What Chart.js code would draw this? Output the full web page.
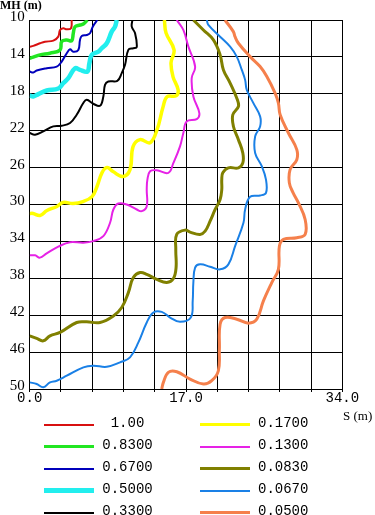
<!DOCTYPE html>
<html>
<head>
<meta charset="utf-8">
<script src="https://cdn.jsdelivr.net/npm/chart.js@4/dist/chart.umd.min.js"></script>
<style>
  body { margin: 0; background: #fff; width: 375px; height: 515px; position: relative; overflow: hidden; }
  #wrap { position: absolute; left: 0; top: 0; width: 375px; height: 410px; }
  .lbl { position: absolute; color: #000; white-space: nowrap; }
  .yTitle { left: 0; top: -2px; font: bold 12px "Liberation Serif", serif; line-height: 14px; }
  .xTitle { left: 343px; top: 408px; font: 13px "Liberation Serif", serif; line-height: 15px; }
  .swatch { position: absolute; }
  .ltxt { position: absolute; font: 14px "Liberation Mono", monospace; line-height: 16px; color: #000; }
</style>
</head>
<body>
<div id="wrap"><canvas id="contourChart" width="375" height="410"></canvas></div>
<div class="lbl yTitle">MH (m)</div>
<div class="lbl xTitle">S (m)</div>
<div id="legend"></div>
<script>
// contour levels (legend labels)
var levels = ["1.00", "0.8300", "0.6700", "0.5000", "0.3300", "0.1700", "0.1300", "0.0830", "0.0670", "0.0500"];

// axis ticks
var sTicks = [0, 3.4, 6.8, 10.2, 13.6, 17, 20.4, 23.8, 27.2, 30.6, 34];
var sTickLabels = ["0.0", "", "", "", "", "17.0", "", "", "", "", "34.0"];
var mhTicks = [10, 14, 18, 22, 26, 30, 34, 38, 42, 46, 50];
var mhTickLabels = ["10", "14", "18", "22", "26", "30", "34", "38", "42", "46", "50"];

// contour traces, S (m) and MH (m)
var s_100 = [0, 0.39, 1.12, 1.66, 2.57, 3.11, 3.30, 3.66, 4.02, 4.49, 4.57];
var mh_100 = [12.89, 12.81, 12.52, 12.35, 12.24, 11.80, 11.08, 10.90, 11.01, 10.90, 10.0];

var s_083 = [0, 0.39, 1.12, 2.21, 3.30, 3.48, 4.03, 4.57, 4.74, 4.93, 5.47, 5.83, 6.27];
var mh_083 = [14.14, 14.03, 13.78, 13.60, 13.24, 12.34, 12.16, 12.24, 11.44, 10.73, 10.54, 10.43, 10.0];

var s_067 = [0, 0.39, 0.76, 1.85, 2.94, 3.48, 4.03, 4.39, 4.74, 5.29, 5.47, 5.66, 6.20, 6.56, 6.86, 7.36];
var mh_067 = [15.59, 15.70, 15.48, 15.22, 15.05, 14.51, 13.60, 13.17, 13.43, 13.24, 12.16, 11.73, 11.62, 11.44, 10.72, 10.0];

var s_050 = [0, 0.39, 0.94, 1.85, 3.11, 3.65, 4.20, 4.93, 5.47, 6.27, 6.49, 6.75, 7.47, 7.83, 8.38, 8.92, 9.28, 9.47];
var mh_050 = [18.18, 18.29, 18.03, 17.64, 17.43, 16.85, 16.31, 15.23, 15.41, 15.59, 14.69, 13.78, 13.43, 13.06, 12.52, 11.26, 10.72, 10.0];

var s_033 = [0, 0.58, 1.48, 2.57, 3.48, 4.39, 5.11, 5.83, 6.20, 6.92, 7.65, 8.01, 8.19, 8.55, 9.53, 10.01, 10.37, 10.73, 11.27, 11.64, 11.46, 11.10, 11.17];
var mh_033 = [22.25, 22.43, 22.07, 21.53, 21.46, 21.17, 20.27, 19.00, 18.65, 19.08, 19.30, 18.29, 17.03, 16.67, 16.59, 15.76, 14.86, 13.24, 13.06, 12.95, 11.44, 10.72, 10.0];

var s_017 = [0, 0.36, 1.12, 1.88, 2.96, 3.62, 4.71, 5.80, 6.78, 7.32, 7.87, 8.41, 9.06, 10.15, 10.91, 11.24, 12.00, 13.10, 13.85, 14.51, 14.94, 15.92, 16.14, 15.59, 15.37, 15.70, 14.83, 14.65];
var mh_017 = [30.97, 30.97, 31.19, 30.65, 30.22, 29.78, 29.89, 29.68, 29.14, 28.05, 26.54, 26.00, 26.43, 26.97, 26.22, 23.73, 22.97, 23.30, 21.89, 19.41, 18.32, 18.22, 17.57, 16.16, 14.65, 13.24, 11.41, 10.0];

var s_013 = [0, 0.58, 1.12, 1.85, 3.11, 4.39, 5.83, 6.92, 8.01, 8.74, 9.10, 9.64, 10.55, 11.64, 12.19, 12.73, 12.73, 12.80, 13.09, 13.82, 15.08, 15.63, 16.35, 16.71, 17.08, 18.17, 18.45, 17.80, 17.62, 17.99, 17.26, 16.71, 15.99];
var mh_013 = [35.51, 35.51, 35.76, 35.30, 34.57, 34.08, 34.14, 33.97, 33.43, 31.98, 30.54, 29.89, 30.00, 30.54, 30.72, 30.18, 28.38, 27.30, 26.40, 26.29, 26.57, 25.49, 23.70, 22.25, 20.99, 20.74, 20.09, 18.29, 16.30, 15.05, 12.89, 11.08, 10.0];

var s_0083 = [0, 0.76, 1.48, 2.21, 3.30, 5.11, 6.20, 7.65, 9.10, 10.01, 10.73, 11.27, 12.00, 12.73, 13.82, 14.91, 15.63, 15.92, 15.89, 15.99, 16.90, 17.44, 18.53, 19.08, 19.62, 20.17, 20.71, 20.89, 20.89, 21.00, 21.61, 22.70, 23.18, 23.18, 22.70, 22.16, 22.09, 22.70, 22.59, 21.80, 21.07, 20.71, 19.98, 18.89, 17.80];
var mh_0083 = [44.24, 44.52, 44.78, 44.24, 43.87, 42.79, 42.72, 42.79, 42.08, 41.17, 39.55, 37.92, 37.38, 37.57, 38.11, 38.46, 38.03, 36.84, 34.86, 33.24, 32.78, 32.99, 33.24, 32.89, 31.81, 30.54, 29.46, 28.38, 27.30, 26.57, 26.03, 26.03, 25.49, 24.41, 22.97, 21.54, 20.27, 19.37, 18.65, 16.84, 15.41, 13.78, 12.16, 11.08, 10.0];

var s_0067 = [0, 0.76, 1.48, 2.21, 2.94, 4.03, 5.84, 6.92, 8.38, 9.83, 10.91, 11.82, 12.73, 13.45, 14.36, 15.27, 16.35, 17.52, 17.73, 17.80, 17.99, 18.53, 19.62, 20.71, 21.61, 22.34, 23.25, 23.43, 23.97, 25.06, 25.70, 25.70, 25.24, 24.52, 24.52, 25.06, 25.06, 24.33, 23.61, 23.43, 23.07, 22.52, 21.80, 20.71, 19.43, 19.26];
var mh_0067 = [49.28, 49.46, 49.82, 49.28, 49.10, 48.56, 47.65, 47.48, 47.59, 47.11, 46.57, 44.95, 42.79, 41.71, 41.64, 42.25, 42.72, 42.25, 40.45, 38.46, 36.84, 36.49, 36.74, 37.03, 36.49, 34.51, 31.98, 30.54, 29.17, 29.02, 28.74, 27.30, 25.85, 24.41, 22.62, 21.54, 20.45, 19.01, 17.57, 16.49, 15.41, 13.97, 12.89, 11.81, 10.54, 10.0];

var s_005 = [21.24, 22.15, 22.33, 22.70, 23.97, 25.06, 25.79, 26.69, 27.05, 27.24, 28.14, 29.05, 29.05, 28.32, 28.24, 28.64, 29.23, 29.96, 29.96, 29.05, 27.60, 27.16, 27.05, 26.33, 25.42, 24.70, 23.79, 22.52, 21.25, 20.71, 20.63, 20.52, 19.80, 18.89, 17.44, 16.00, 15.08, 14.54, 14.36];
var mh_005 = [10.0, 11.26, 11.81, 12.52, 13.97, 15.05, 16.13, 17.92, 19.01, 20.27, 22.25, 24.05, 25.14, 26.22, 27.65, 28.70, 29.82, 31.62, 33.24, 33.60, 33.78, 34.51, 37.03, 38.46, 40.45, 42.43, 42.86, 42.43, 42.25, 42.97, 45.68, 48.02, 49.10, 49.46, 48.92, 48.13, 48.19, 49.28, 50.0];

var sSeries = [s_100, s_083, s_067, s_050, s_033, s_017, s_013, s_0083, s_0067, s_005];
var mhSeries = [mh_100, mh_083, mh_067, mh_050, mh_033, mh_017, mh_013, mh_0083, mh_0067, mh_005];

// styles
var lineColors = ["#d81010", "#22e622", "#0000bb", "#22eeee", "#000000", "#ffff00", "#e622e6", "#808000", "#1a80e6", "#f5804c"];
var lineWidths = [2, 3.5, 2, 4.5, 2, 3.5, 2, 3, 2, 3];

var datasets = levels.map(function (lab, i) {
  return {
    label: lab,
    data: sSeries[i].map(function (s, j) { return { x: s, y: mhSeries[i][j] }; }),
    showLine: true,
    borderColor: lineColors[i],
    borderWidth: lineWidths[i],
    pointRadius: 0,
    tension: 0.4,
    fill: false,
  };
});

var ctx = document.getElementById("contourChart").getContext("2d");
var contourChart = new Chart(ctx, {
  type: "scatter",
  data: { datasets: datasets },
  options: {
    responsive: false,
    animation: false,
    layout: { padding: { left: 0, right: 32.7, top: 20, bottom: 0 } },
    plugins: { legend: { display: false }, tooltip: { enabled: false } },
    scales: {
      x: {
        type: "linear",
        min: 0,
        max: 34,
        afterBuildTicks: function (scale) {
          scale.ticks = sTicks.map(function (v) { return { value: v }; });
        },
        afterFit: function (scale) { scale.height = 21; },
        ticks: {
          autoSkip: false,
          maxRotation: 0,
          padding: -2,
          color: "#000",
          font: { family: "'Liberation Mono', monospace", size: 14 },
          callback: function (v, i) { return sTickLabels[i]; },
        },
        grid: { color: "#000", lineWidth: 1, tickLength: 3, drawTicks: true },
        border: { color: "#000", width: 1 },
      },
      y: {
        type: "linear",
        min: 10,
        max: 50,
        reverse: true,
        afterBuildTicks: function (scale) {
          scale.ticks = mhTicks.map(function (v) { return { value: v }; });
        },
        afterFit: function (scale) { scale.width = 29.7; },
        ticks: {
          autoSkip: false,
          padding: 5,
          labelOffset: -3,
          color: "#000",
          font: { family: "'Liberation Serif', serif", size: 15 },
          callback: function (v, i) { return mhTickLabels[i]; },
        },
        grid: { color: "#000", lineWidth: 1, drawTicks: false },
        border: { color: "#000", width: 1 },
      },
    },
  },
});

// legend: two columns of five
var legend = document.getElementById("legend");
levels.forEach(function (lab, i) {
  var col = i < 5 ? 0 : 1;
  var row = i % 5;
  var cy = 424.5 + row * 22;
  var sw = document.createElement("div");
  sw.className = "swatch";
  sw.style.left = (col === 0 ? 44 : 200) + "px";
  sw.style.width = "50px";
  sw.style.height = lineWidths[i] + "px";
  sw.style.top = (cy - lineWidths[i] / 2) + "px";
  sw.style.background = lineColors[i];
  legend.appendChild(sw);
  var tx = document.createElement("div");
  tx.className = "ltxt";
  tx.textContent = lab;
  tx.style.top = (cy - 10) + "px";
  if (col === 0) {
    tx.style.left = "95px";
    tx.style.width = "65px";
    tx.style.textAlign = "center";
  } else {
    tx.style.left = "258px";
  }
  legend.appendChild(tx);
});
</script>
</body>
</html>
